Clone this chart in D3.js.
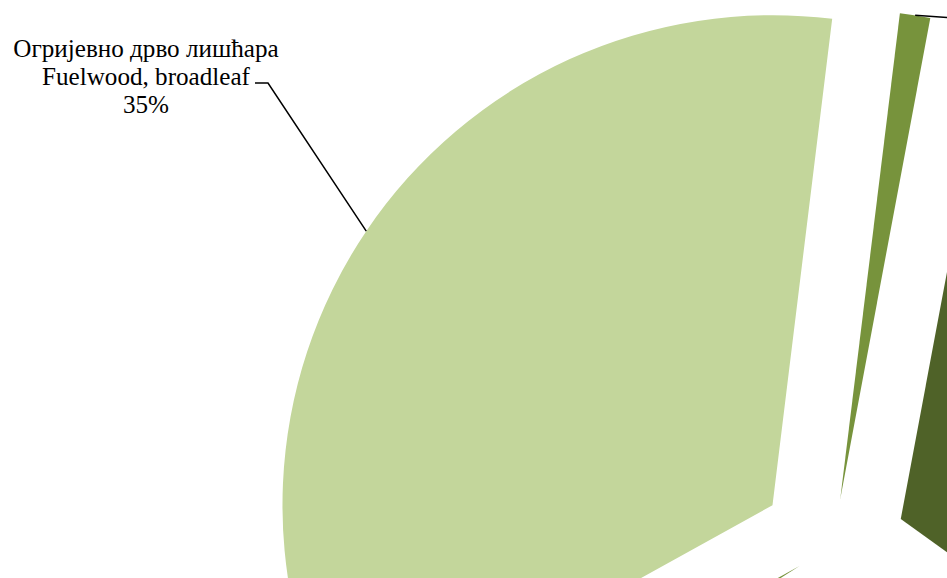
<!DOCTYPE html>
<html>
<head>
<meta charset="utf-8">
<script src="https://cdn.jsdelivr.net/npm/d3@7"></script>
<style>
  body { margin: 0; background: #fff; }
  svg { display: block; }
</style>
</head>
<body>
<div id="chart"></div>
<script>
// slices, clockwise from the first slice angle
var labelsSr = ["Огријевно дрво четинара", "Техничко дрво четинара", "Техничко дрво лишћара", "Остало", "Огријевно дрво лишћара"];
var labelsEn = ["Fuelwood, coniferous", "Roundwood, coniferous", "Roundwood, broadleaf", "Other", "Fuelwood, broadleaf"];
var shares = [1, 32, 31, 1, 35];
var colors = ["#77933C", "#4F6228", "#9BBB59", "#77933C", "#C3D69B"];
// explosion distance of each slice (px)
var explode = [47, 73, 73, 39, 73];

var width = 947;
var height = 578;
var cx = 833, cy = 546;
var radius = 490;
var deg = Math.PI / 180;

var data = shares.map(function(v, i) {
  return {value: v, sr: labelsSr[i], en: labelsEn[i], color: colors[i], off: explode[i]};
});

var svg = d3.select("#chart").append("svg")
  .attr("width", width)
  .attr("height", height);

var pie = d3.pie()
  .sort(null)
  .value(d => d.value)
  .startAngle(7 * deg)
  .endAngle(367 * deg);

var arc = d3.arc().innerRadius(0).outerRadius(radius);

var arcs = pie(data);

// position of slice apex after explosion
function apex(d) {
  var a = (d.startAngle + d.endAngle) / 2;
  return [cx + d.data.off * Math.sin(a), cy - d.data.off * Math.cos(a)];
}
function outerMid(d) {
  var a = (d.startAngle + d.endAngle) / 2;
  var p = apex(d);
  return [p[0] + radius * Math.sin(a), p[1] - radius * Math.cos(a)];
}

svg.append("g")
  .selectAll("path")
  .data(arcs)
  .enter().append("path")
  .attr("transform", d => "translate(" + apex(d) + ")")
  .attr("d", arc)
  .attr("fill", d => d.data.color);

// labels: broadleaf fuelwood on the left, others off to the right
var fontFamily = "'Liberation Serif', 'DejaVu Serif', serif";

var big = arcs[4];
var bm = outerMid(big);
svg.append("path")
  .attr("d", d3.line()([bm, [268, 83], [255, 83]]))
  .attr("fill", "none")
  .attr("stroke", "#000")
  .attr("stroke-width", 1.5);

var lab = svg.append("text")
  .attr("font-family", fontFamily)
  .attr("font-size", 24)
  .attr("fill", "#000")
  .attr("text-anchor", "middle");
[big.data.sr, big.data.en, big.data.value + "%"].forEach(function(t, i) {
  lab.append("tspan").attr("x", 146).attr("y", 57 + i * 28).text(t);
});

// fit the label font to the reference width
var w = lab.select("tspan:nth-child(2)").node().getComputedTextLength();
lab.attr("font-size", 24 * 208 / w);
var first = lab.select("tspan:nth-child(1)");
if (first.node().getComputedTextLength() > 269) {
  first.attr("textLength", 269).attr("lengthAdjust", "spacingAndGlyphs");
}

var thin = arcs[0];
var tm = outerMid(thin);
svg.append("path")
  .attr("d", d3.line()([tm, [1010, 22]]))
  .attr("fill", "none")
  .attr("stroke", "#000")
  .attr("stroke-width", 1.5);
</script>
</body>
</html>
